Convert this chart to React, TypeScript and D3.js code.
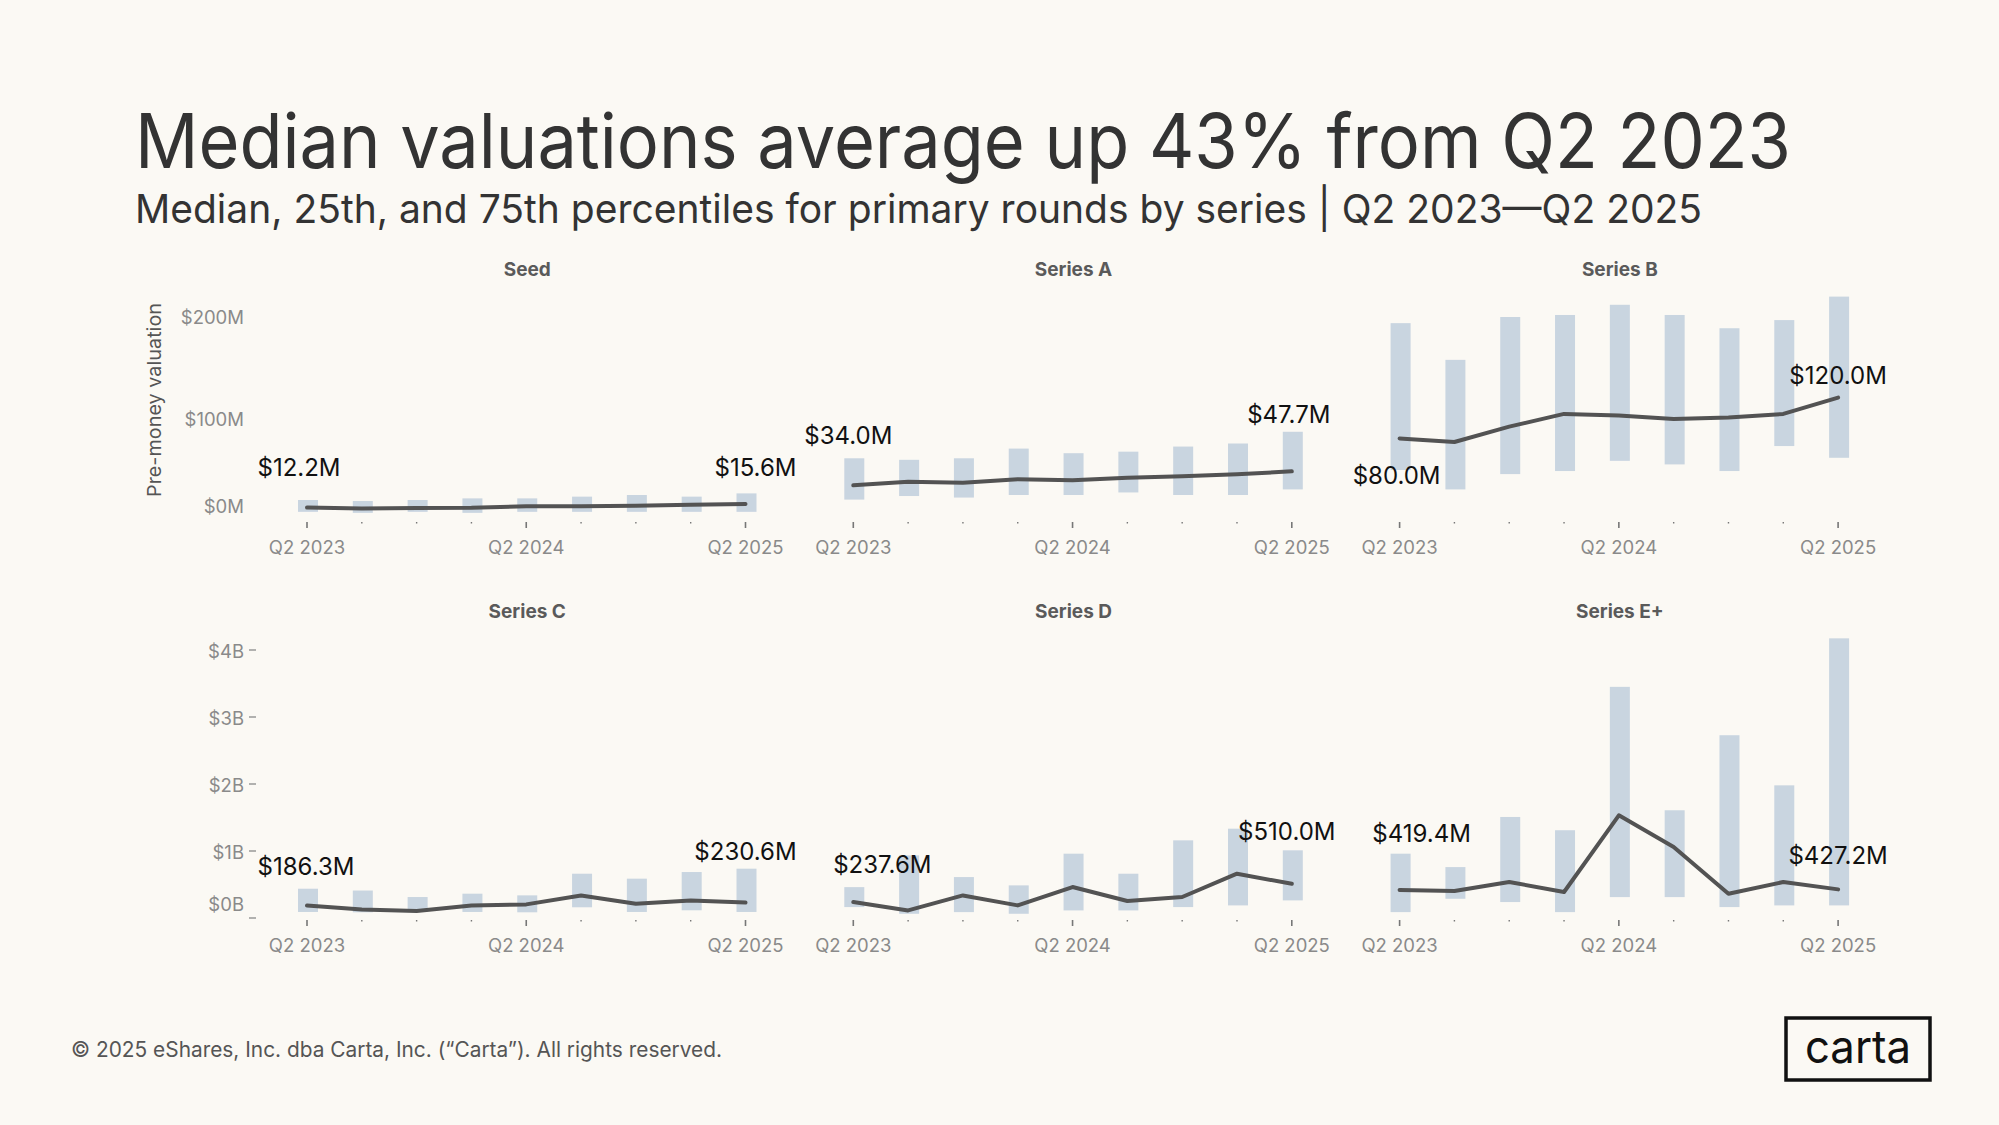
import { useEffect } from 'react';
import * as d3 from 'd3';

const W = 1999;
const H = 1125;

const QUARTERS = ['Q2 2023', 'Q3 2023', 'Q4 2023', 'Q1 2024', 'Q2 2024', 'Q3 2024', 'Q4 2024', 'Q1 2025', 'Q2 2025'];
const LABELED_QUARTERS = ['Q2 2023', 'Q2 2024', 'Q2 2025'];
const SERIES = ['Seed', 'Series A', 'Series B', 'Series C', 'Series D', 'Series E+'];

// Top row values in $M
const seedMedian = [12.2, 11.2, 11.8, 11.9, 13.5, 13.4, 13.9, 15.0, 15.6];
const seedP25 = [8, 7, 8, 7, 8, 8, 8, 8, 8];
const seedP75 = [19.6, 18.6, 19.6, 21.2, 21.2, 22.9, 24.5, 22.9, 26.1];

const seriesAMedian = [34.0, 37.5, 36.5, 40.0, 39.0, 41.5, 43.0, 44.8, 47.7];
const seriesAP25 = [20, 23.5, 22, 24.5, 24.5, 27, 24.5, 24.5, 30];
const seriesAP75 = [60.5, 59, 60.5, 70, 65.5, 67, 72, 75, 86.5];

const seriesBMedian = [80.0, 76.5, 91.5, 104, 102.5, 99, 100.5, 104, 120.0];
const seriesBP25 = [49, 30, 45, 48, 58, 54.5, 48, 72.5, 61];
const seriesBP75 = [193, 157, 199, 201, 211, 201, 188, 196, 219];

// Bottom row values in $B
const seriesCMedian = [0.1863, 0.128, 0.103, 0.188, 0.203, 0.337, 0.213, 0.263, 0.2306];
const seriesCP25 = [0.09, 0.085, 0.09, 0.09, 0.085, 0.16, 0.09, 0.115, 0.09];
const seriesCP75 = [0.437, 0.41, 0.313, 0.363, 0.338, 0.661, 0.587, 0.686, 0.736];

const seriesDMedian = [0.2376, 0.113, 0.337, 0.188, 0.462, 0.253, 0.313, 0.661, 0.51];
const seriesDP25 = [0.163, 0.063, 0.088, 0.063, 0.113, 0.113, 0.163, 0.188, 0.263];
const seriesDP75 = [0.461, 0.935, 0.611, 0.487, 0.96, 0.661, 1.159, 1.333, 1.01];

const seriesEMedian = [0.4194, 0.402, 0.537, 0.388, 1.533, 1.06, 0.362, 0.537, 0.4272];
const seriesEP25 = [0.088, 0.287, 0.238, 0.088, 0.312, 0.312, 0.163, 0.188, 0.188];
const seriesEP75 = [0.96, 0.76, 1.508, 1.31, 3.45, 1.608, 2.728, 1.98, 4.174];

const TOP_TICKS = [0, 100, 200];
const TOP_TICK_LABELS = ['$0M', '$100M', '$200M'];
const BOTTOM_TICKS = [0, 1, 2, 3, 4];
const BOTTOM_TICK_LABELS = ['$0B', '$1B', '$2B', '$3B', '$4B'];

const MEDIANS = [seedMedian, seriesAMedian, seriesBMedian, seriesCMedian, seriesDMedian, seriesEMedian];
const P25S = [seedP25, seriesAP25, seriesBP25, seriesCP25, seriesDP25, seriesEP25];
const P75S = [seedP75, seriesAP75, seriesBP75, seriesCP75, seriesDP75, seriesEP75];

// layout
const COL_X0 = 307;
const COL_STEP = 546.3;
const PANEL_W = 438.5;
const BAR_W = 20;
const TY = 3; // nudge for middle-aligned text
const ROWS = [
  { base: 520, top: 316, max: 200, titleY: 268, xLabelY: 546, ticks: TOP_TICKS, tickLabels: TOP_TICK_LABELS, dash: false, toM: 1 },
  { base: 918, top: 650, max: 4, titleY: 610, xLabelY: 944, ticks: BOTTOM_TICKS, tickLabels: BOTTOM_TICK_LABELS, dash: true, toM: 1000 },
];
// offsets of the first / last value labels from their point
const LABEL_OFFSETS: [number, number][][] = [
  [[-8, -41], [10, -38]],
  [[-5, -51], [-3, -58]],
  [[-3, 36], [0, -23]],
  [[-1, -40], [0, -52]],
  [[29, -39], [-5, -53]],
  [[22, -57], [0, -35]],
];

const BG = '#fbf9f4';
const BAR = '#c9d5e0';
const LINE = '#535353';
const FONT = 'Inter, "Noto Sans", sans-serif';

export default function App() {
  useEffect(() => {
    document.body.style.margin = '0';
    document.body.style.background = BG;
  }, []);

  return (
    <svg width={W} height={H} style={{ position: 'absolute', left: 0, top: 0, display: 'block' }} fontFamily={FONT}>
      <rect width={W} height={H} fill={BG} />

      <text x={135} y={168} fontSize={76} fill="#333" textLength={1656} lengthAdjust="spacingAndGlyphs">
        Median valuations average up 43% from Q2 2023
      </text>
      <text x={135} y={223} fontSize={40} fill="#333" textLength={1567} lengthAdjust="spacingAndGlyphs">
        Median, 25th, and 75th percentiles for primary rounds by series | Q2 2023—Q2 2025
      </text>

      <text
        transform={`translate(156,400) rotate(-90)`}
        textAnchor="middle"
        dominantBaseline="middle"
        fontSize={19}
        fill="#555"
        textLength={194}
        lengthAdjust="spacingAndGlyphs"
      >
        Pre-money valuation
      </text>

      {ROWS.map((row, ri) => {
        const y = d3.scaleLinear([0, row.max], [row.base, row.top]);
        return (
          <g key={`axis-${ri}`}>
            {row.ticks.map((t, i) => (
              <g key={t}>
                <text
                  x={244}
                  y={y(t) + (t === 0 ? -15 : 0) + TY}
                  textAnchor="end"
                  dominantBaseline="middle"
                  fontSize={18.5}
                  fill="#8a8a8a"
                >
                  {row.tickLabels[i]}
                </text>
                {row.dash && <line x1={249} x2={256} y1={y(t)} y2={y(t)} stroke="#999" strokeWidth={1.5} />}
              </g>
            ))}
          </g>
        );
      })}

      {SERIES.map((name, si) => {
        const row = ROWS[Math.floor(si / 3)];
        const col = si % 3;
        const x0 = COL_X0 + col * COL_STEP;
        const x = d3.scalePoint<string>(QUARTERS, [x0, x0 + PANEL_W]);
        const y = d3.scaleLinear([0, row.max], [row.base, row.top]);
        const med = MEDIANS[si];
        const p25 = P25S[si];
        const p75 = P75S[si];
        const line = d3
          .line<number>()
          .x((_, i) => x(QUARTERS[i]) ?? 0)
          .y(v => y(v));
        const labelIdx = [0, QUARTERS.length - 1];
        return (
          <g key={name}>
            <text
              x={x0 + PANEL_W / 2 + 1}
              y={row.titleY + TY}
              textAnchor="middle"
              dominantBaseline="middle"
              fontSize={19}
              fontWeight={700}
              fill="#5a5a5a"
            >
              {name}
            </text>

            {QUARTERS.map((q, i) => (
              <rect
                key={q}
                x={(x(q) ?? 0) - BAR_W / 2 + 1}
                y={y(p75[i])}
                width={BAR_W}
                height={y(p25[i]) - y(p75[i])}
                fill={BAR}
              />
            ))}

            <path d={line(med) ?? ''} fill="none" stroke={LINE} strokeWidth={4} strokeLinejoin="round" strokeLinecap="round" />

            {QUARTERS.map(q => {
              const major = LABELED_QUARTERS.includes(q);
              const cx = x(q) ?? 0;
              return (
                <g key={`t-${q}`}>
                  <line
                    x1={cx}
                    x2={cx}
                    y1={row.base + 2}
                    y2={row.base + (major ? 8 : 3.5)}
                    stroke="#777"
                    strokeWidth={major ? 1.6 : 1.4}
                  />
                  {major && (
                    <text x={cx} y={row.xLabelY + TY} textAnchor="middle" dominantBaseline="middle" fontSize={18.5} fill="#8a8a8a">
                      {q}
                    </text>
                  )}
                </g>
              );
            })}

            {labelIdx.map((idx, k) => {
              const [dx, dy] = LABEL_OFFSETS[si][k];
              return (
                <text
                  key={`l-${idx}`}
                  x={(x(QUARTERS[idx]) ?? 0) + dx}
                  y={y(med[idx]) + dy + TY}
                  textAnchor="middle"
                  dominantBaseline="middle"
                  fontSize={24}
                  fill="#111"
                >
                  {`$${(med[idx] * row.toM).toFixed(1)}M`}
                </text>
              );
            })}
          </g>
        );
      })}

      <text x={71} y={1048 + TY} dominantBaseline="middle" fontSize={21} fill="#555" textLength={651} lengthAdjust="spacingAndGlyphs">
        © 2025 eShares, Inc. dba Carta, Inc. (“Carta”). All rights reserved.
      </text>

      <rect x={1786} y={1018} width={144} height={62} fill="none" stroke="#111" strokeWidth={3.5} />
      <text x={1858} y={1050} textAnchor="middle" dominantBaseline="middle" fontSize={46} fill="#111" textLength={106} lengthAdjust="spacingAndGlyphs">
        carta
      </text>
    </svg>
  );
}
